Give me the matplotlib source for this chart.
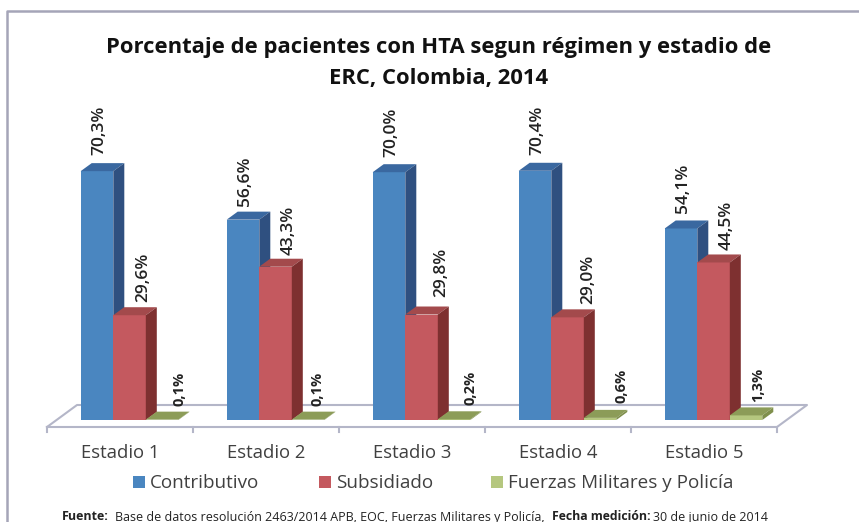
import numpy as np
import matplotlib
matplotlib.use("Agg")
import matplotlib.pyplot as plt
from matplotlib.patches import Polygon, Rectangle

plt.rcParams['font.family'] = ['Open Sans', 'DejaVu Sans']

estadios = ["Estadio 1", "Estadio 2", "Estadio 3", "Estadio 4", "Estadio 5"]
contributivo = [70.3, 56.6, 70.0, 70.4, 54.1]
subsidiado = [29.6, 43.3, 29.8, 29.0, 44.5]
fuerzas = [0.1, 0.1, 0.2, 0.6, 1.3]
series_names = ["Contributivo", "Subsidiado", "Fuerzas Militares y Policía"]

#front, top, side colours of each series
colors = [("#4a86c0", "#3a68a0", "#2f5080"),
          ("#c4595f", "#a34a4c", "#7e3030"),
          ("#b5c77f", "#8c9c58", "#7f8f4c")]

W, H = 859, 522
px_per_cat = 146.0
px_per_pct = 3.54
x0_px, y0_px = 120.0, 420.0
bar_w = 32.6 / px_per_cat
dx = 11.0 / px_per_cat     #depth of the bars
dy = 8.0 / px_per_pct

fig = plt.figure(figsize=(W / 100, H / 100), dpi=100)
ax = fig.add_axes([0, 0, 1, 1])
ax.set_xlim(-x0_px / px_per_cat, (W - x0_px) / px_per_cat)
ax.set_ylim(-(H - y0_px) / px_per_pct, y0_px / px_per_pct)
ax.axis("off")

def xpx(p):
    return (p - x0_px) / px_per_cat

def ypx(p):
    return (y0_px - p) / px_per_pct

#outer frame
ax.plot([xpx(7), xpx(7), xpx(859)], [ypx(522), ypx(10.5), ypx(10.5)], color="#a5a5b8", lw=1.8)

#floor
floor_col = "#b4b6c8"
ax.plot([xpx(47), xpx(77), xpx(807), xpx(777), xpx(47)],
        [ypx(427), ypx(405), ypx(405), ypx(427), ypx(427)], color=floor_col, lw=1.5)
for i in range(6):
    t = xpx(47) + i
    ax.plot([t, t], [ypx(427), ypx(432)], color=floor_col, lw=1.5)

x = np.arange(5)
all_series = [contributivo, subsidiado, fuerzas]
offsets = [-23.0 / px_per_cat, 9.5 / px_per_cat, 42.0 / px_per_cat]
#label shift and gap in px, the labels are not placed evenly
label_shift = [[2, 2, 2, 2, 2], [13.5, 13, 19.5, 21, 13], [17, 10, 17, 22, 12]]
label_gap = [[8, 6, 7, 8, 7], [5, 4, 10, 5, 4], [6, 6, 6, 7, 5]]
for s, vals in enumerate(all_series):
    xs = x + offsets[s]
    front, top, side = colors[s]
    ax.bar(xs, vals, bar_w, color=front, zorder=3 + s)
    for j, (xi, v) in enumerate(zip(xs, vals)):
        l, r = xi - bar_w / 2, xi + bar_w / 2
        ax.add_patch(Polygon([(l, v), (r, v), (r + dx, v + dy), (l + dx, v + dy)],
                             color=top, lw=0, zorder=3 + s))
        ax.add_patch(Polygon([(r, 0), (r + dx, dy), (r + dx, v + dy), (r, v)],
                             color=side, lw=0, zorder=3 + s))
        txt = f"{v:.1f}%".replace(".", ",")
        big = s < 2
        ax.text(xi + label_shift[s][j] / px_per_cat, v + dy + label_gap[s][j] / px_per_pct, txt,
                rotation=90, ha="center", va="bottom", fontsize=12.5 if big else 10.5,
                fontweight="bold" if not big else "semibold", color="#222222", zorder=10)

for i, e in enumerate(estadios):
    ax.text(i, ypx(452.5), e, ha="center", va="center", fontsize=13.3, color="#404040")

#legend
leg_x = [133, 319, 491]
for name, c, lx in zip(series_names, colors, leg_x):
    ax.add_patch(Rectangle((xpx(lx), ypx(488)), 12 / px_per_cat, 12 / px_per_pct,
                           color=c[0], lw=0))
    ax.text(xpx(lx + 17), ypx(482.5), name, ha="left", va="center", fontsize=13.6,
            color="#404040")

fig.text(438.5 / W, 1 - 47.5 / H, "Porcentaje de pacientes con HTA segun régimen y estadio de",
         ha="center", va="center", fontsize=15.8, fontweight="bold", color="#111111")
fig.text(438.5 / W, 1 - 78.5 / H, "ERC, Colombia, 2014",
         ha="center", va="center", fontsize=15.8, fontweight="bold", color="#111111")

fig.text(62 / W, 1 - 517 / H, "Fuente:", fontsize=9, fontweight="bold", va="center", color="#222222")
fig.text(115 / W, 1 - 517 / H, "Base de datos resolución 2463/2014 APB, EOC, Fuerzas Militares y Policía,",
         fontsize=9, va="center", color="#222222")
fig.text(552 / W, 1 - 517 / H, "Fecha medición:", fontsize=8.8, fontweight="bold", va="center", color="#222222")
fig.text(653 / W, 1 - 517 / H, "30 de junio de 2014", fontsize=9, va="center", color="#222222")

fig.savefig("out.png", dpi=100)
